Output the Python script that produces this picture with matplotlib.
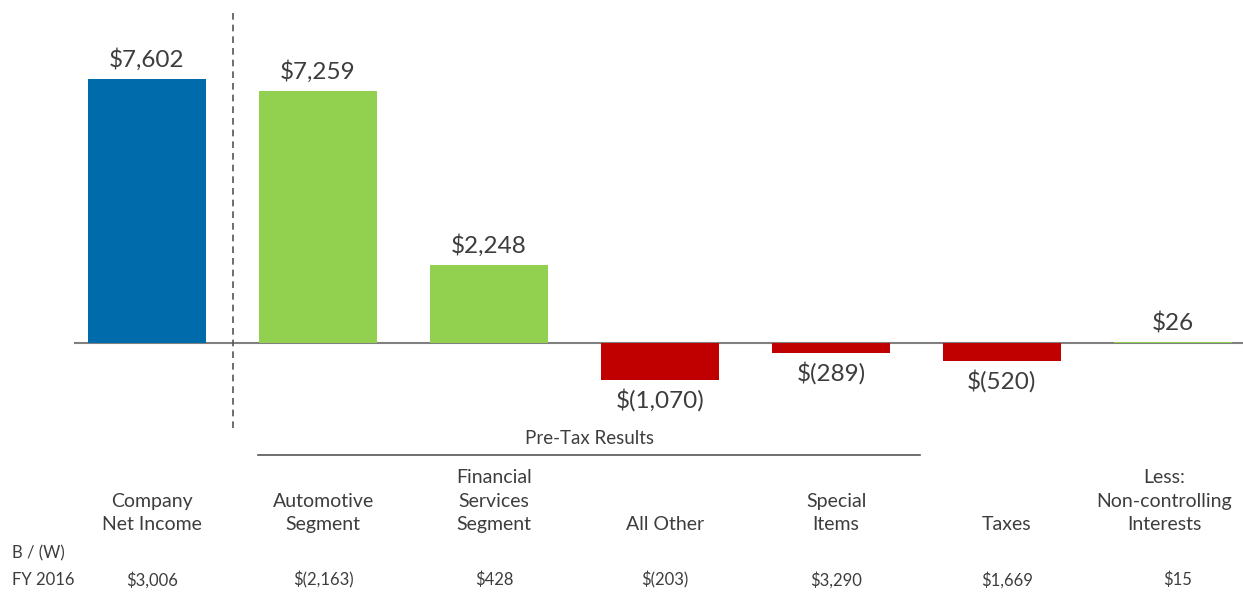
"""
Ford 2017 net income walk - recreated waterfall-style bar chart
"""

import matplotlib.pyplot as plt
import numpy as np

plt.rcParams['font.family'] = ['Lato', 'DejaVu Sans']

# data
categories = ['Company\nNet Income', 'Automotive\nSegment', 'Financial\nServices\nSegment',
              'All Other', 'Special\nItems', 'Taxes', 'Less:\nNon-controlling\nInterests']
values = [7602, 7259, 2248, -1070, -289, -520, 26]
value_labels = ['$7,602', '$7,259', '$2,248', '$(1,070)', '$(289)', '$(520)', '$26']
fy2016 = ['$3,006', '$(2,163)', '$428', '$(203)', '$3,290', '$1,669', '$15']
kinds = ['total', 'pos', 'pos', 'neg', 'neg', 'neg', 'pos']

colors = {'total': '#006BAB', 'pos': '#92D050', 'neg': '#C00000'}
text_color = '#3d3d3d'

fig = plt.figure(figsize=(12.43, 5.92), dpi=100)
ax = fig.add_axes([0, 0, 1, 1])

x = np.arange(len(values))
bars = ax.bar(x, values, width=0.69, color=[colors[k] for k in kinds], zorder=3)

ax.set_xlim(-0.86, 6.41)
ax.set_ylim(-7170, 9876)
ax.axis('off')

# zero line (under the bars so the small $26 bar stays visible)
ax.axhline(0, xmin=0.06, xmax=1, color='#808080', linewidth=1.5, zorder=2)

# dashed separator
ax.vlines(0.5, -2447, 9588, colors='#555555', linestyles=(0, (4, 3)), linewidth=1.2)

# value labels
for bar, v, lab in zip(bars, values, value_labels):
    cx = bar.get_x() + bar.get_width() / 2
    if v >= 0:
        ax.text(cx, v + 220, lab, ha='center', va='bottom', fontsize=17.5, color=text_color)
    else:
        ax.text(cx, v - 250, lab, ha='center', va='top', fontsize=17.5, color=text_color)

# Pre-Tax Results bracket
xt = ax.get_xaxis_transform()
ax.text(2.585, 1 - 438 / 592, 'Pre-Tax Results', transform=xt, ha='center', va='center',
        fontsize=13.5, color=text_color)
ax.plot([0.649, 4.52], [1 - 455 / 592] * 2, transform=xt, color='#555555', linewidth=1.2,
        clip_on=False)

# category labels (last one pulled left so it fits at the edge)
label_x = x + 0.03
cat_x = label_x.copy()
cat_x[-1] = 5.95
for lx, cat in zip(cat_x, categories):
    ax.text(lx, 1 - 533 / 592, cat, transform=xt, ha='center', va='bottom',
            fontsize=14, color=text_color, linespacing=1.45)

# B / (W) FY 2016 row
fx = ax.transAxes
ax.text(12 / 1243, 1 - 553 / 592, 'B / (W)', transform=fx, ha='left', va='center',
        fontsize=12, color=text_color)
ax.text(12 / 1243, 1 - 580 / 592, 'FY 2016', transform=fx, ha='left', va='center',
        fontsize=12, color=text_color)
for lx, lab in zip(label_x, fy2016):
    ax.text(lx, 1 - 580 / 592, lab, transform=xt, ha='center', va='center',
            fontsize=12, color=text_color)

plt.savefig('out.png', dpi=100)
plt.close()
